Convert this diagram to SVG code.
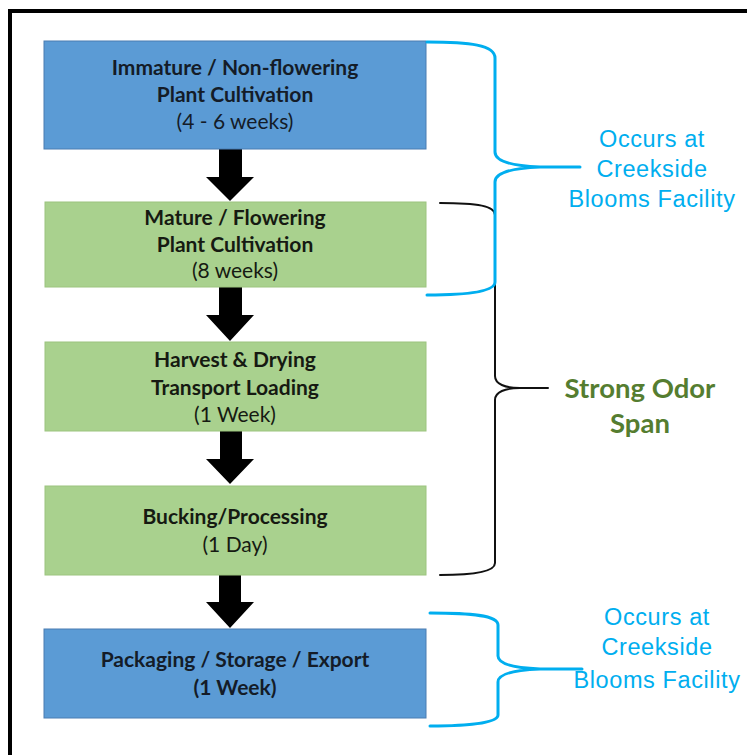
<svg xmlns="http://www.w3.org/2000/svg" width="747" height="755" viewBox="0 0 747 755">
<defs>
<style>
.frame{fill:none;stroke:#000;stroke-width:4}
.blue{fill:#5b9bd5;stroke:#4a7db2;stroke-width:1}
.green{fill:#a9d18e;stroke:#9cc47f;stroke-width:1}
.bt{font-family:Lato,"Open Sans","Liberation Sans",sans-serif;font-weight:700;font-size:21px;fill:#141c28;text-anchor:middle}
.gt{font-family:Lato,"Open Sans","Liberation Sans",sans-serif;font-weight:700;font-size:21px;fill:#161a12;text-anchor:middle}
.reg{font-weight:400}
.arrow{fill:#000}
.bbrace{fill:none;stroke:#00aeef;stroke-width:3;stroke-linecap:round}
.kbrace{fill:none;stroke:#111;stroke-width:2;stroke-linecap:round}
.cyan{font-family:"Liberation Sans",Arial,sans-serif;font-size:23.5px;letter-spacing:0.6px;fill:#00aeef;text-anchor:middle}
.odor{font-family:Lato,"Open Sans","Liberation Sans",sans-serif;font-weight:700;font-size:27.5px;fill:#557d30;text-anchor:middle}
</style>
</defs>
<rect width="747" height="755" fill="#fff"/>
<path class="frame" d="M10,760 L10,11 L750,11"/>

<g id="connectors">
<polygon class="arrow" points="219,149 242,149 242,177 254,177 230,201 206,177 219,177"/>
<polygon class="arrow" points="219,287 242,287 242,315 254,315 230,341 206,315 219,315"/>
<polygon class="arrow" points="220,431 242,431 242,459 254,459 230,484 206,459 220,459"/>
<polygon class="arrow" points="219,575 241,575 241,602 254,602 230,628 206,602 219,602"/>
</g>

<g id="node-immature">
<rect class="blue" x="44" y="41" width="382" height="108"/>
<text class="bt" x="235" y="75">Immature / Non-flowering</text>
<text class="bt" x="235" y="102">Plant Cultivation</text>
<text class="bt reg" x="235" y="129">(4 - 6 weeks)</text>
</g>

<g id="node-mature">
<rect class="green" x="45" y="202" width="381" height="85"/>
<text class="gt" x="235" y="225">Mature / Flowering</text>
<text class="gt" x="235" y="252">Plant Cultivation</text>
<text class="gt reg" x="235" y="278">(8 weeks)</text>
</g>

<g id="node-harvest">
<rect class="green" x="45" y="342" width="381" height="89"/>
<text class="gt" x="235" y="367">Harvest &amp; Drying</text>
<text class="gt" x="235" y="395">Transport Loading</text>
<text class="gt reg" x="235" y="422">(1 Week)</text>
</g>

<g id="node-bucking">
<rect class="green" x="45" y="486" width="381" height="89"/>
<text class="gt" x="235" y="524">Bucking/Processing</text>
<text class="gt reg" x="235" y="552">(1 Day)</text>
</g>

<g id="node-packaging">
<rect class="blue" x="44" y="629" width="382" height="89"/>
<text class="bt" x="235" y="667">Packaging / Storage / Export</text>
<text class="bt" x="235" y="695">(1 Week)</text>
</g>

<g id="brace-odor">
<path class="kbrace" d="M440,203 C478,203 495,206 495,215 L495,376 C495,384 505,388 520,388 L548,388 M520,388 C505,388 495,392 495,400 L495,563 C495,571 478,575 440,575"/>
<text class="odor" x="640" y="398">Strong Odor</text>
<text class="odor" x="640" y="433">Span</text>
</g>

<g id="brace-facility-top">
<path class="bbrace" d="M427,42 C470,42 495,45 495,58 L495,152 C495,162 515,166 540,167 L580,167 M540,167 C515,168 495,172 495,182 L495,282 C495,291 470,295 427,295"/>
<text class="cyan" x="652" y="147">Occurs at</text>
<text class="cyan" x="652" y="177">Creekside</text>
<text class="cyan" x="652" y="207">Blooms Facility</text>
</g>

<g id="brace-facility-bottom">
<path class="bbrace" d="M430,613 C470,613 498,615 498,625 L498,656 C498,664 515,668 540,669 L582,669 M540,669 C515,670 498,674 498,682 L498,715 C498,723 470,726 430,726"/>
<text class="cyan" x="657" y="625">Occurs at</text>
<text class="cyan" x="657" y="655">Creekside</text>
<text class="cyan" x="657" y="688">Blooms Facility</text>
</g>
</svg>
